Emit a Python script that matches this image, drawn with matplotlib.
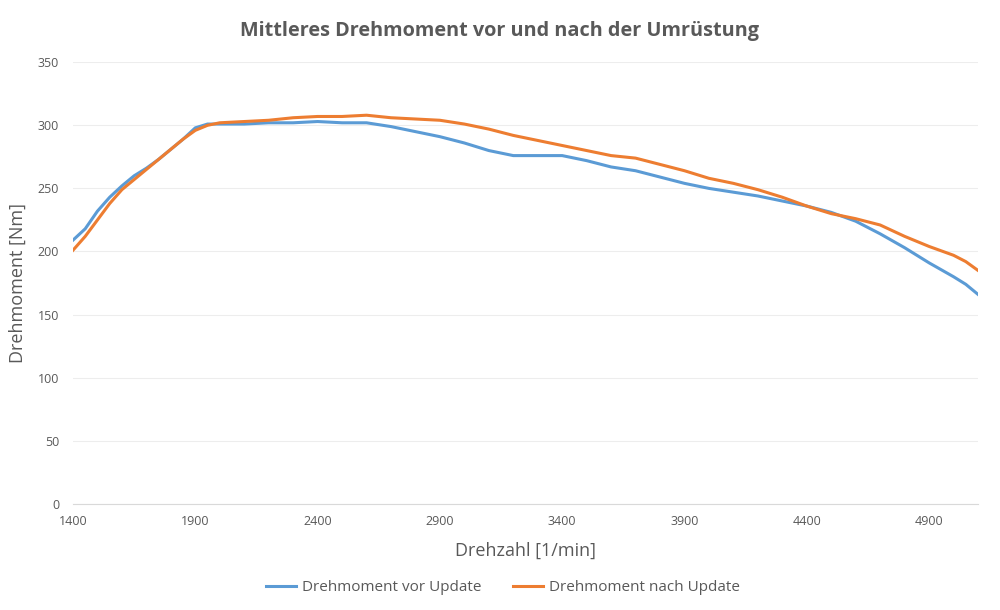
import matplotlib
matplotlib.use('Agg')
import matplotlib.pyplot as plt

rpm = [1400, 1450, 1500, 1550, 1600, 1650, 1700, 1750, 1800, 1850, 1900, 1950,
       2000, 2100, 2200, 2300, 2400, 2500, 2600, 2700, 2800, 2900, 3000, 3100,
       3200, 3300, 3400, 3500, 3600, 3700, 3800, 3900, 4000, 4100, 4200, 4300,
       4400, 4500, 4600, 4700, 4800, 4900, 5000, 5050, 5100]
vor_update = [209, 218, 232, 243, 252, 260, 266, 273, 281, 289, 298, 301,
              301, 301, 302, 302, 303, 302, 302, 299, 295, 291, 286, 280,
              276, 276, 276, 272, 267, 264, 259, 254, 250, 247, 244, 240,
              236, 231, 224, 214, 203, 191, 180, 174, 166]
nach_update = [201, 212, 225, 238, 249, 257, 265, 273, 281, 289, 296, 300,
               302, 303, 304, 306, 307, 307, 308, 306, 305, 304, 301, 297,
               292, 288, 284, 280, 276, 274, 269, 264, 258, 254, 249, 243,
               236, 230, 226, 221, 212, 204, 197, 192, 185]
x_ticks = [1400, 1900, 2400, 2900, 3400, 3900, 4400, 4900]
y_ticks = [0, 50, 100, 150, 200, 250, 300, 350]

plt.rcParams['font.family'] = ['Open Sans', 'DejaVu Sans']
GREY = '#595959'

fig = plt.figure(figsize=(10, 6.1), dpi=100)
ax = fig.add_axes([0.073, 0.174, 0.905, 0.724])

ax.plot(rpm, vor_update, color='#5B9BD5', lw=2.2, label='Drehmoment vor Update')
ax.plot(rpm, nach_update, color='#ED7D31', lw=2.2, label='Drehmoment nach Update')

ax.set_xlim(1400, 5100)
ax.set_ylim(0, 350)
ax.set_xticks(x_ticks)
ax.set_yticks(y_ticks)
ax.tick_params(length=0, colors=GREY, labelsize=9)
ax.tick_params(axis='x', pad=8)
ax.tick_params(axis='y', pad=10)
ax.grid(axis='y', color='#EDEDED', lw=0.8)
for s in ['top', 'right', 'left']:
    ax.spines[s].set_visible(False)
ax.spines['bottom'].set_color('#D9D9D9')

ax.set_xlabel('Drehzahl [1/min]', fontsize=13, color=GREY, labelpad=10)
ax.set_ylabel('Drehmoment [Nm]', fontsize=13, color=GREY, labelpad=8)
fig.suptitle('Mittleres Drehmoment vor und nach der Umrüstung', fontsize=14.3,
             fontweight='bold', color=GREY, y=0.965)

fig.legend(loc='center', bbox_to_anchor=(0.503, 0.037), ncol=2, frameon=False,
           fontsize=11, labelcolor=GREY, handlelength=2.0, handletextpad=0.4,
           columnspacing=2.0)

fig.savefig('out.png', dpi=100, facecolor='white')
